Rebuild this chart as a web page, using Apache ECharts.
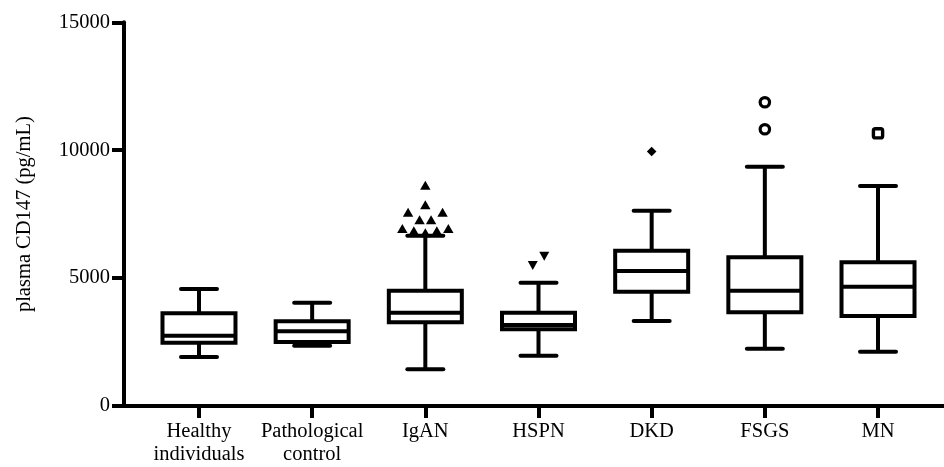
<!DOCTYPE html>
<html>
<head>
<meta charset="utf-8">
<script src="https://cdn.jsdelivr.net/npm/echarts@6/dist/echarts.min.js"></script>
<style>
html,body{margin:0;padding:0;background:#fff;}
#chart{width:944px;height:467px;}
</style>
</head>
<body>
<div id="chart"></div>
<script>
// ---- data ----
const categories = ['Healthy\nindividuals', 'Pathological\ncontrol', 'IgAN', 'HSPN', 'DKD', 'FSGS', 'MN'];
const lowerWhisker = [1916, 2360, 1435, 1967, 3324, 2242, 2124];
const q1Values     = [2475, 2500, 3270, 2998, 4470, 3663, 3519];
const medianValues = [2750, 2920, 3650, 3167, 5279, 4510, 4666];
const q3Values     = [3625, 3310, 4510, 3648, 6073, 5813, 5617];
const upperWhisker = [4575, 4040, 6660, 4821, 7637, 9357, 8602];

const outliersIgAN = [8615, 7847, 7558, 7558, 7261, 7261, 6921, 6921, 6830, 6830, 6752];
const outliersHSPN = [5877, 5513];
const outliersDKD  = [9950];
const outliersFSGS = [11875, 10819];
const outliersMN   = [10660];

const yTicks = [0, 5000, 10000, 15000];

// outlier groups: category index, values, marker kind
const outlierGroups = [
  { cat: 2, values: outliersIgAN, kind: 'triangle' },
  { cat: 3, values: outliersHSPN, kind: 'triangleDown' },
  { cat: 4, values: outliersDKD,  kind: 'diamond' },
  { cat: 5, values: outliersFSGS, kind: 'circle' },
  { cat: 6, values: outliersMN,   kind: 'square' }
];

const boxData = categories.map((c, i) => [i, lowerWhisker[i], q1Values[i], medianValues[i], q3Values[i], upperWhisker[i]]);

const FONT = 'Liberation Serif';
const FS = 20.5;
const LW = 4;

function renderBox(params, api) {
  const c = api.value(0);
  const lo = api.coord([c, api.value(1)]);
  const q1 = api.coord([c, api.value(2)]);
  const md = api.coord([c, api.value(3)]);
  const q3 = api.coord([c, api.value(4)]);
  const hi = api.coord([c, api.value(5)]);
  const band = api.size([1, 0])[0];
  const bw = band * 0.645;
  const cw = band * 0.318;
  const x = lo[0];
  const st = { stroke: '#000', fill: null, lineWidth: LW };
  const stCap = { stroke: '#000', fill: null, lineWidth: LW, lineCap: 'round' };
  return {
    type: 'group',
    children: [
      { type: 'line', shape: { x1: x, y1: q3[1], x2: x, y2: hi[1] }, style: st },
      { type: 'line', shape: { x1: x, y1: q1[1], x2: x, y2: lo[1] }, style: st },
      { type: 'line', shape: { x1: x - cw / 2, y1: hi[1], x2: x + cw / 2, y2: hi[1] }, style: stCap },
      { type: 'line', shape: { x1: x - cw / 2, y1: lo[1], x2: x + cw / 2, y2: lo[1] }, style: stCap },
      { type: 'rect', shape: { x: x - bw / 2, y: q3[1], width: bw, height: q1[1] - q3[1] }, style: { stroke: '#000', fill: '#fff', lineWidth: LW } },
      { type: 'line', shape: { x1: x - bw / 2, y1: md[1], x2: x + bw / 2, y2: md[1] }, style: st }
    ]
  };
}

function markerShape(kind, x, y) {
  if (kind === 'triangle') {
    return { type: 'polygon', shape: { points: [[x, y - 5], [x + 5.2, y + 4], [x - 5.2, y + 4]] }, style: { fill: '#000' } };
  }
  if (kind === 'triangleDown') {
    return { type: 'polygon', shape: { points: [[x, y + 5], [x + 5, y - 4], [x - 5, y - 4]] }, style: { fill: '#000' } };
  }
  if (kind === 'diamond') {
    return { type: 'polygon', shape: { points: [[x, y - 4.8], [x + 4.8, y], [x, y + 4.8], [x - 4.8, y]] }, style: { fill: '#000' } };
  }
  if (kind === 'circle') {
    return { type: 'circle', shape: { cx: x, cy: y, r: 4.7 }, style: { fill: null, stroke: '#000', lineWidth: 3.2 } };
  }
  return { type: 'rect', shape: { x: x - 4.6, y: y - 4.6, width: 9.2, height: 9.2, r: 2 }, style: { fill: null, stroke: '#000', lineWidth: 3.4 } };
}

function renderOutliers(params, api) {
  const g = outlierGroups[params.dataIndex];
  const cat = g.cat;
  const cx = api.coord([cat, 0])[0];
  const medY = api.coord([cat, medianValues[cat]])[1];
  const binH = 11;     // bin height in px
  const slotW = 11.5;  // horizontal slot width in px
  const pts = g.values.map(v => ({ y: api.coord([cat, v])[1] }));
  pts.sort((a, b) => Math.abs(a.y - medY) - Math.abs(b.y - medY));
  // sequential binning from the box outward
  const bins = [];
  let cur = null;
  pts.forEach(p => {
    if (!cur || Math.abs(p.y - cur.startY) >= binH) {
      cur = { startY: p.y, items: [] };
      bins.push(cur);
    }
    cur.items.push(p);
  });
  const children = [];
  bins.forEach(b => {
    const n = b.items.length;
    b.items.forEach((p, k) => {
      let off;
      if (n % 2 === 1) {
        if (k === 0) off = 0;
        else { const m = Math.ceil(k / 2); off = (k % 2 === 1 ? -1 : 1) * m * slotW; }
      } else {
        const m = Math.floor(k / 2); off = (k % 2 === 0 ? -1 : 1) * (m + 0.5) * slotW;
      }
      children.push(markerShape(g.kind, cx + off, p.y));
    });
  });
  return { type: 'group', children };
}

const chart = echarts.init(document.getElementById('chart'), null, { renderer: 'canvas' });
const option = {
  backgroundColor: '#fff',
  animation: false,
  grid: [
    { left: 142.4, right: 9.4, top: 22.3, bottom: 61, outerBoundsMode: 'none', containLabel: false },
    { left: 122, right: 0, top: 22.3, bottom: 61, outerBoundsMode: 'none', containLabel: false }
  ],
  xAxis: [
    {
      type: 'category', gridIndex: 0, data: categories, boundaryGap: true,
      axisLine: { show: false },
      axisTick: { show: true, alignWithLabel: true, length: 12, lineStyle: { color: '#000', width: LW } },
      axisLabel: { interval: 0, margin: 14, color: '#000', fontFamily: FONT, fontSize: FS, lineHeight: 23 },
      splitLine: { show: false }
    },
    {
      type: 'value', gridIndex: 1, min: 0, max: 1,
      axisLine: { show: true, lineStyle: { color: '#000', width: LW } },
      axisTick: { show: false }, axisLabel: { show: false }, splitLine: { show: false }
    }
  ],
  yAxis: [
    {
      type: 'value', gridIndex: 0, min: yTicks[0], max: yTicks[yTicks.length - 1], interval: yTicks[1] - yTicks[0],
      offset: 18.4,
      name: 'plasma CD147 (pg/mL)', nameLocation: 'middle', nameRotate: 90, nameGap: 89,
      nameTextStyle: { color: '#000', fontFamily: FONT, fontSize: FS },
      axisLine: { show: true, lineStyle: { color: '#000', width: LW } },
      axisTick: { show: true, length: 12, lineStyle: { color: '#000', width: LW } },
      axisLabel: { margin: 14, color: '#000', fontFamily: FONT, fontSize: FS, formatter: v => String(v) },
      splitLine: { show: false }
    },
    { type: 'value', gridIndex: 1, show: false, min: 0, max: 1 }
  ],
  series: [
    {
      type: 'custom', xAxisIndex: 0, yAxisIndex: 0, renderItem: renderBox,
      data: boxData, encode: { x: 0, y: [1, 2, 3, 4, 5] }, clip: false, silent: true
    },
    {
      type: 'custom', xAxisIndex: 0, yAxisIndex: 0, renderItem: renderOutliers,
      data: outlierGroups.map(g => [g.cat, Math.max.apply(null, g.values)]), encode: { x: 0, y: 1 }, clip: false, silent: true
    }
  ]
};
chart.setOption(option);
</script>
</body>
</html>
